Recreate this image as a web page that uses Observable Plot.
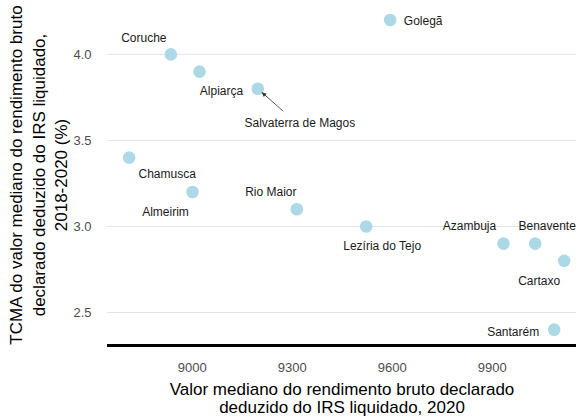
<!DOCTYPE html>
<html>
<head>
<meta charset="utf-8">
<script src="https://cdn.jsdelivr.net/npm/d3@7"></script>
<script src="https://cdn.jsdelivr.net/npm/@observablehq/plot@0.6"></script>
<style>
  html, body { margin: 0; padding: 0; background: #fff; }
  #chart { width: 576px; height: 416px; }
</style>
</head>
<body>
<div id="chart"></div>
<script>
// Data
const names = ["Golegã", "Coruche", "Alpiarça", "Salvaterra de Magos", "Chamusca", "Almeirim",
  "Rio Maior", "Lezíria do Tejo", "Azambuja", "Benavente", "Cartaxo", "Santarém"];
const rendimento2020 = [9594, 8936, 9022, 9197, 8811, 9001, 9314, 9522, 9934, 10029, 10116, 10086];
const tcma = [4.2, 4.0, 3.9, 3.8, 3.4, 3.2, 3.1, 3.0, 2.9, 2.9, 2.8, 2.4];
const xTicks = [9000, 9300, 9600, 9900];
const yTicks = [2.5, 3.0, 3.5, 4.0];
const xTitle = "Valor mediano do rendimento bruto declarado\ndeduzido do IRS liquidado, 2020";
const yTitle = "TCMA do valor mediano do rendimento bruto\ndeclarado deduzido do IRS liquidado,\n2018-2020 (%)";

// Label layout (pixel nudges from each point, like ggrepel)
const labelNudge = [[33, 1], [-27, -16], [22, 20], [42, 34], [38, 17], [-27, 20],
  [-26, -17], [16, 20], [-34, -17], [12, -17], [-25, 20], [-41, 2]];
const arrowFor = "Salvaterra de Magos";

const data = names.map((n, i) => ({name: n, x: rendimento2020[i], y: tcma[i]}));

const font = "Arial, 'Liberation Sans', sans-serif";

const labelMarks = data.map((d, i) => Plot.text([d], {
  x: "x", y: "y", text: "name",
  dx: labelNudge[i][0], dy: labelNudge[i][1],
  fontSize: 12, fill: "#1a1a1a"
}));

const arrowDatum = data.find(d => d.name === arrowFor);
const arrowNudge = labelNudge[names.indexOf(arrowFor)];
const arrowMark = Plot.dot([arrowDatum], {
  x: "x", y: "y",
  render(index, scales, values, dimensions, context) {
    const px = scales.x(arrowDatum.x), py = scales.y(arrowDatum.y);
    const sx = px + arrowNudge[0] - 16, sy = py + arrowNudge[1] - 11;
    const ang = Math.atan2(py - sy, px - sx);
    const ex = px - Math.cos(ang) * 6, ey = py - Math.sin(ang) * 6;
    const g = d3.create("svg:g");
    g.append("line").attr("x1", sx).attr("y1", sy).attr("x2", ex).attr("y2", ey)
      .attr("stroke", "#333").attr("stroke-width", 0.8);
    const hl = 5, ha = 0.45;
    const p1 = [ex - hl * Math.cos(ang - ha), ey - hl * Math.sin(ang - ha)];
    const p2 = [ex - hl * Math.cos(ang + ha), ey - hl * Math.sin(ang + ha)];
    g.append("path").attr("d", `M${ex},${ey}L${p1[0]},${p1[1]}L${p2[0]},${p2[1]}Z`)
      .attr("fill", "#333");
    return g.node();
  }
});

const chart = Plot.plot({
  width: 576,
  height: 416,
  marginLeft: 107,
  marginRight: 0,
  marginTop: 4,
  marginBottom: 71,
  style: {fontFamily: font, background: "#fff"},
  x: {domain: [8746, 10153], ticks: xTicks, tickFormat: d3.format("d")},
  y: {domain: [2.308, 4.29], ticks: yTicks, tickFormat: d3.format(".1f")},
  marks: [
    Plot.gridY(yTicks, {stroke: "#e3e3e3", strokeOpacity: 1, strokeWidth: 1}),
    Plot.axisY(yTicks, {tickSize: 0, tickPadding: 16, fontSize: 13, fill: "#4d4d4d", label: null, tickFormat: d3.format(".1f")}),
    Plot.axisX(xTicks, {tickSize: 0, tickPadding: 17, fontSize: 13, fill: "#4d4d4d", label: null, tickFormat: d3.format("d")}),
    Plot.ruleY([2.308], {stroke: "#000", strokeWidth: 3}),
    Plot.dot(data, {x: "x", y: "y", r: 6.3, fill: "#ADD8E6", stroke: null}),
    ...labelMarks,
    arrowMark,
    Plot.text([xTitle], {frameAnchor: "bottom", text: d => d, dy: 53, textAnchor: "middle", lineAnchor: "middle", lineHeight: 1.05, fontSize: 17, fill: "#000"}),
    Plot.text([yTitle], {frameAnchor: "left", text: d => d, dx: -70, rotate: -90, textAnchor: "middle", lineAnchor: "middle", lineHeight: 1.3, fontSize: 17, fill: "#000"})
  ]
});
document.getElementById("chart").append(chart);
</script>
</body>
</html>
